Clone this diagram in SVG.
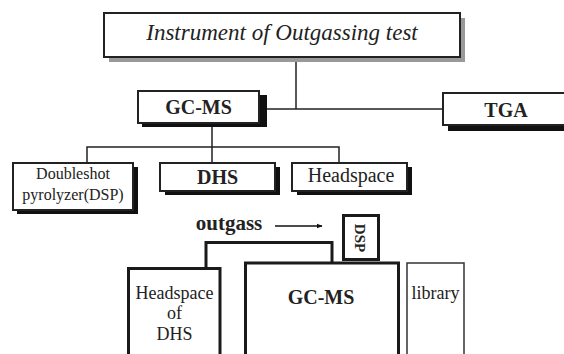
<svg xmlns="http://www.w3.org/2000/svg" width="564" height="354" viewBox="0 0 564 354">
<defs>
<marker id="ah" viewBox="0 0 10 10" refX="9" refY="5" markerWidth="6" markerHeight="6" orient="auto" markerUnits="userSpaceOnUse"><path d="M0,1 L10,5 L0,9 Z" fill="#111"/></marker>
</defs>
<style>
.box{fill:#fff;stroke:#222;stroke-width:2}
.sh{fill:#111}
.tb{fill:#fff;stroke:#1a1a1a;stroke-width:3}
.ln{fill:none;stroke:#222;stroke-width:1.5}
.t{font-family:"Liberation Serif","Times New Roman",serif;fill:#222;text-anchor:middle}
.b{font-weight:bold}
</style>
<rect width="564" height="354" fill="#fff"/>
<g id="connectors">
<path class="ln" d="M296,57 V109 M259,109 H443"/>
<path class="ln" d="M212,123 V147 M87,162 V147 H339 V162 M212,147 V162"/>
<path fill="none" stroke="#1a1a1a" stroke-width="3" d="M206,267 V242.5 H332 V262"/>
<line x1="275" y1="226" x2="322" y2="226" stroke="#111" stroke-width="1.5" marker-end="url(#ah)"/>
</g>
<g id="instrument">
<rect x="109" y="18" width="356" height="44" fill="#999"/>
<rect class="box" x="104" y="13" width="356" height="44" stroke="#333"/>
<text class="t" x="282" y="40" font-size="23" font-style="italic">Instrument of Outgassing test</text>
</g>
<g id="gcms">
<rect class="sh" x="142" y="95" width="125" height="32"/>
<rect class="box" x="138" y="91" width="121" height="32"/>
<text class="t b" x="198.5" y="113.5" font-size="20">GC-MS</text>
</g>
<g id="tga">
<rect class="sh" x="448" y="98" width="130" height="33"/>
<rect class="box" x="443" y="93" width="130" height="32"/>
<text class="t b" x="506" y="117" font-size="20">TGA</text>
</g>
<g id="dsp-node">
<rect class="sh" x="17" y="167" width="121" height="47"/>
<rect class="box" x="13" y="163" width="120" height="47"/>
<text class="t" x="73" y="179" font-size="16">Doubleshot</text>
<text class="t" x="73" y="200" font-size="16">pyrolyzer(DSP)</text>
</g>
<g id="dhs">
<rect class="sh" x="165" y="167" width="115" height="28"/>
<rect class="box" x="160" y="163" width="115" height="28"/>
<text class="t b" x="217.5" y="183.5" font-size="20">DHS</text>
</g>
<g id="headspace">
<rect class="sh" x="297" y="167" width="115" height="28"/>
<rect class="box" x="292" y="163" width="115" height="28"/>
<text class="t" x="351" y="182" font-size="20">Headspace</text>
</g>
<text class="t b" x="229" y="230" font-size="21">outgass</text>
<g id="headspace-dhs">
<rect class="tb" x="128.5" y="268.5" width="91.5" height="100"/>
<text class="t" x="174.5" y="298.5" font-size="18">Headspace</text>
<text class="t" x="174.5" y="319" font-size="18">of</text>
<text class="t" x="174.5" y="340" font-size="18">DHS</text>
</g>
<g id="gcms-main">
<rect class="tb" x="245.5" y="263" width="153" height="110"/>
<text class="t b" x="321" y="304" font-size="20">GC-MS</text>
</g>
<g id="dsp-small">
<rect class="tb" x="343.5" y="215.5" width="35" height="44"/>
<text class="t b" font-size="15" transform="translate(354.5,238) rotate(90)" x="0" y="0">DSP</text>
</g>
<g id="library">
<rect x="407" y="263" width="57" height="110" fill="#fff" stroke="#333" stroke-width="1.5"/>
<text class="t" x="435.5" y="298.5" font-size="18">library</text>
</g>
</svg>
